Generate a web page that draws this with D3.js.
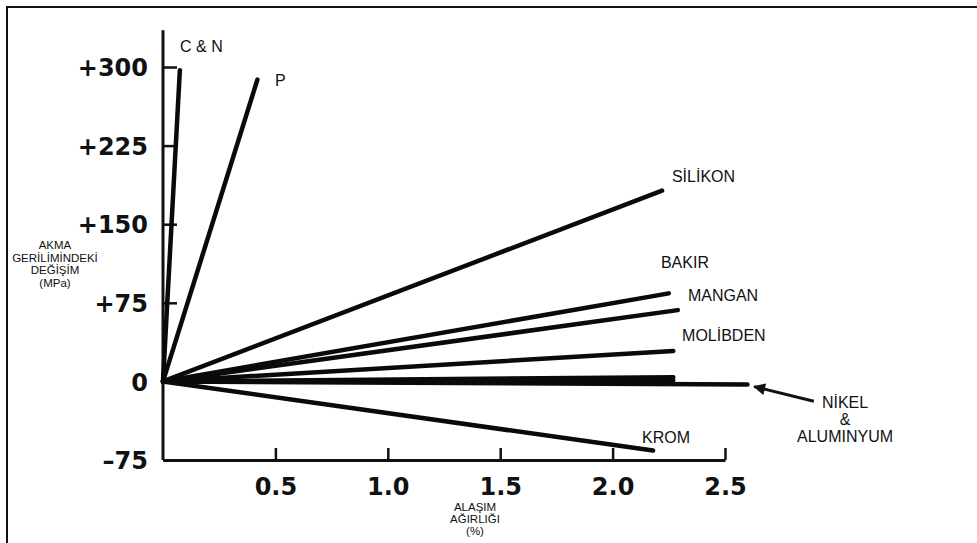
<!DOCTYPE html>
<html>
<head>
<meta charset="utf-8">
<script src="https://cdn.jsdelivr.net/npm/d3@7"></script>
<style>
  body { margin: 0; background: #fff; }
  .tick text { font-family: "DejaVu Sans", sans-serif; font-weight: bold; font-size: 24px; fill: #111; }
  .lbl { font-family: "Liberation Sans", Arial, sans-serif; font-size: 16px; fill: #111; }
  .ttl { font-family: "Liberation Sans", Arial, sans-serif; font-size: 11.5px; fill: #111; }
</style>
</head>
<body>
<div id="vis"></div>
<script>
const FRAME_WIDTH = 977;
const FRAME_HEIGHT = 543;

// alloy lines: every line starts at (0, 0)
const ALLOYS   = ["C & N", "P", "SİLİKON", "BAKIR", "MANGAN", "MOLİBDEN", "", "", "NİKEL & ALUMINYUM", "KROM"];
const END_PCT  = [0.075, 0.42, 2.22, 2.25, 2.29, 2.27, 2.27, 2.27, 2.60, 2.18];
const END_MPA  = [297, 288, 182, 84, 68, 29, 4, 1, -3, -66];

// axis ticks
const X_TICKS = [0.5, 1.0, 1.5, 2.0, 2.5];
const Y_TICKS = [300, 225, 150, 75, 0, -75];
const Y_TICK_LABELS = ["+300", "+225", "+150", "+75", "0", "\u201375"];

// labels placed in data units
const LABELS   = ["C & N", "P", "SİLİKON", "BAKIR", "MANGAN", "MOLİBDEN", "KROM"];
const LABEL_X  = [0.076, 0.498, 2.264, 2.215, 2.335, 2.309, 2.131];
const LABEL_Y  = [314, 282, 190, 108, 77, 38.5, -59];
const NI_LINES = ["NİKEL", "&", "ALUMINYUM"];
const NI_X = 3.034;
const NI_Y = [-25.4, -41.6, -57.8];

const Y_TITLE = ["AKMA", "GERİLİMİNDEKİ", "DEĞİŞİM", "(MPa)"];
const X_TITLE = ["ALAŞIM", "AĞIRLIĞI", "(%)"];

const svg = d3.select("#vis")
  .append("svg")
    .attr("width", FRAME_WIDTH)
    .attr("height", FRAME_HEIGHT);

// outer frame (right and bottom edges fall outside the picture)
svg.append("rect")
  .attr("x", 7).attr("y", 7)
  .attr("width", FRAME_WIDTH + 20).attr("height", FRAME_HEIGHT + 20)
  .attr("fill", "none").attr("stroke", "#111").attr("stroke-width", 2);

const X = d3.scaleLinear().domain([0, 2.5]).range([163, 725]);
const Y = d3.scaleLinear().domain([-75, 300]).range([460, 67]);

// y axis
const yAxis = svg.append("g")
  .attr("transform", "translate(" + X(0) + ",0)")
  .call(d3.axisLeft(Y).tickValues(Y_TICKS)
        .tickFormat((d, i) => Y_TICK_LABELS[i])
        .tickSize(-14).tickSizeOuter(0).tickPadding(15));
yAxis.select(".domain").remove();
yAxis.selectAll(".tick line").attr("stroke", "#111").attr("stroke-width", 2.5);
yAxis.selectAll(".tick text").attr("dy", "0.36em");

svg.append("line")
  .attr("x1", X(0)).attr("x2", X(0))
  .attr("y1", Y(-75)).attr("y2", Y(335))
  .attr("stroke", "#111").attr("stroke-width", 3);

// x axis
const xAxis = svg.append("g")
  .attr("transform", "translate(0," + Y(-75) + ")")
  .call(d3.axisBottom(X).tickValues(X_TICKS)
        .tickFormat(d3.format(".1f"))
        .tickSize(-12).tickSizeOuter(0).tickPadding(18));
xAxis.select(".domain").attr("stroke", "#111").attr("stroke-width", 3);
xAxis.selectAll(".tick line").attr("stroke", "#111").attr("stroke-width", 2.5);

// alloy lines
svg.selectAll(".alloy")
  .data(ALLOYS)
  .enter()
  .append("line")
    .attr("class", "alloy")
    .attr("x1", X(0)).attr("y1", Y(0))
    .attr("x2", (d, i) => X(END_PCT[i]))
    .attr("y2", (d, i) => Y(END_MPA[i]))
    .attr("stroke", "#0a0a0a")
    .attr("stroke-width", 4.5)
    .attr("stroke-linecap", "round");

// labels
svg.selectAll(".lbl")
  .data(LABELS)
  .enter()
  .append("text")
    .attr("class", "lbl")
    .attr("x", (d, i) => X(LABEL_X[i]))
    .attr("y", (d, i) => Y(LABEL_Y[i]))
    .text(d => d);

svg.selectAll(".ni")
  .data(NI_LINES)
  .enter()
  .append("text")
    .attr("class", "lbl")
    .attr("text-anchor", "middle")
    .attr("x", X(NI_X))
    .attr("y", (d, i) => Y(NI_Y[i]))
    .text(d => d);

// arrow pointing at the nickel line end
svg.append("defs").append("marker")
  .attr("id", "head")
  .attr("viewBox", "0 0 10 10")
  .attr("refX", 9).attr("refY", 5)
  .attr("markerWidth", 16).attr("markerHeight", 12)
  .attr("markerUnits", "userSpaceOnUse")
  .attr("orient", "auto")
  .append("path")
    .attr("d", "M0,0 L10,5 L0,10 Z")
    .attr("fill", "#111");

svg.append("line")
  .attr("x1", X(2.895)).attr("y1", Y(-19))
  .attr("x2", X(2.63)).attr("y2", Y(-5))
  .attr("stroke", "#111").attr("stroke-width", 3)
  .attr("marker-end", "url(#head)");

// axis titles
svg.selectAll(".yt")
  .data(Y_TITLE)
  .enter()
  .append("text")
    .attr("class", "ttl")
    .attr("text-anchor", "middle")
    .attr("x", 55)
    .attr("y", (d, i) => 249 + i * 12.7)
    .text(d => d);

svg.selectAll(".xt")
  .data(X_TITLE)
  .enter()
  .append("text")
    .attr("class", "ttl")
    .attr("text-anchor", "middle")
    .attr("x", 475)
    .attr("y", (d, i) => 511 + i * 12)
    .text(d => d);
</script>
</body>
</html>
